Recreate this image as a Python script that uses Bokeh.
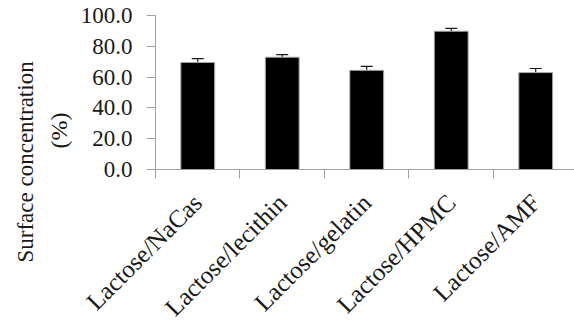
import math
from bokeh.plotting import figure
from bokeh.models import (ColumnDataSource, Range1d, FixedTicker, NumeralTickFormatter,
                          Whisker, TeeHead, Title)
from bokeh.embed import file_html
from bokeh.resources import INLINE

# ---- data ----
categories = ["Lactose/NaCas", "Lactose/lecithin", "Lactose/gelatin", "Lactose/HPMC", "Lactose/AMF"]
values = [69.5, 72.9, 64.4, 89.8, 62.9]
errors = [2.5, 1.7, 2.6, 1.9, 2.7]
y_ticks = [0, 20, 40, 60, 80, 100]
y_label_lines = ["Surface concentration", "(%)"]

positions = list(range(1, len(categories) + 1))
boundaries = [i + 0.5 for i in range(0, len(categories) + 1)]
source = ColumnDataSource(dict(
    x=positions,
    top=values,
    upper=[v + e for v, e in zip(values, errors)],
))

FONT = "Liberation Serif"
GRAY = "#a0a0a0"

p = figure(width=574, height=333, title=None,
           x_range=Range1d(0.5, 5.459), y_range=Range1d(y_ticks[0], y_ticks[-1]),
           output_backend="svg", toolbar_location=None,
           min_border_left=155, min_border_right=0, min_border_top=15, min_border_bottom=145)

p.vbar(x="x", top="top", width=0.4, source=source,
       fill_color="black", line_color="#a6a6a6", line_width=1)

whisker = Whisker(source=source, base="x", lower="top", upper="upper", dimension="height",
                  line_color="#1a1a1a", line_width=1.2,
                  upper_head=TeeHead(size=12, line_color="#1a1a1a", line_width=1.2),
                  lower_head=None)
p.add_layout(whisker)

# y axis
p.yaxis.ticker = FixedTicker(ticks=y_ticks)
p.yaxis.formatter = NumeralTickFormatter(format="0.0")
p.yaxis.axis_line_color = GRAY
p.yaxis.major_tick_line_color = GRAY
p.yaxis.major_tick_out = 9
p.yaxis.major_tick_in = 0
p.yaxis.minor_tick_line_color = None
p.yaxis.major_label_standoff = 14
p.yaxis.major_label_text_font = FONT
p.yaxis.major_label_text_font_size = "23px"
p.yaxis.major_label_text_color = "#1a1a1a"

# x axis
p.xaxis.ticker = FixedTicker(ticks=positions, minor_ticks=boundaries)
p.xaxis.major_label_overrides = {pos: cat for pos, cat in zip(positions, categories)}
p.xaxis.major_tick_line_color = None
p.xaxis.major_tick_out = 8
p.xaxis.major_tick_in = 0
p.xaxis.minor_tick_line_color = GRAY
p.xaxis.minor_tick_out = 9
p.xaxis.minor_tick_in = 0
p.xaxis.axis_line_color = GRAY
p.xaxis.major_label_orientation = math.pi / 4
p.xaxis.major_label_standoff = 20
p.xaxis.major_label_text_font = FONT
p.xaxis.major_label_text_font_size = "25px"
p.xaxis.major_label_text_color = "#1a1a1a"

# grid: only the top line
p.xgrid.visible = False
p.ygrid.ticker = FixedTicker(ticks=[y_ticks[-1]])
p.ygrid.grid_line_color = "#3a3a3a"
p.ygrid.grid_line_width = 1.5
p.outline_line_color = None

# y axis title: two lines on the left, placed lower like the original
p.add_layout(Title(text=y_label_lines[1], align="left", offset=21, standoff=12,
                   text_font=FONT, text_font_size="24px", text_font_style="normal",
                   text_color="#1a1a1a"), "left")
p.add_layout(Title(text=y_label_lines[0], align="left", offset=-93, standoff=0,
                   text_font=FONT, text_font_size="23px", text_font_style="normal",
                   text_color="#1a1a1a"), "left")

open("out.html", "w").write(file_html(p, INLINE))
